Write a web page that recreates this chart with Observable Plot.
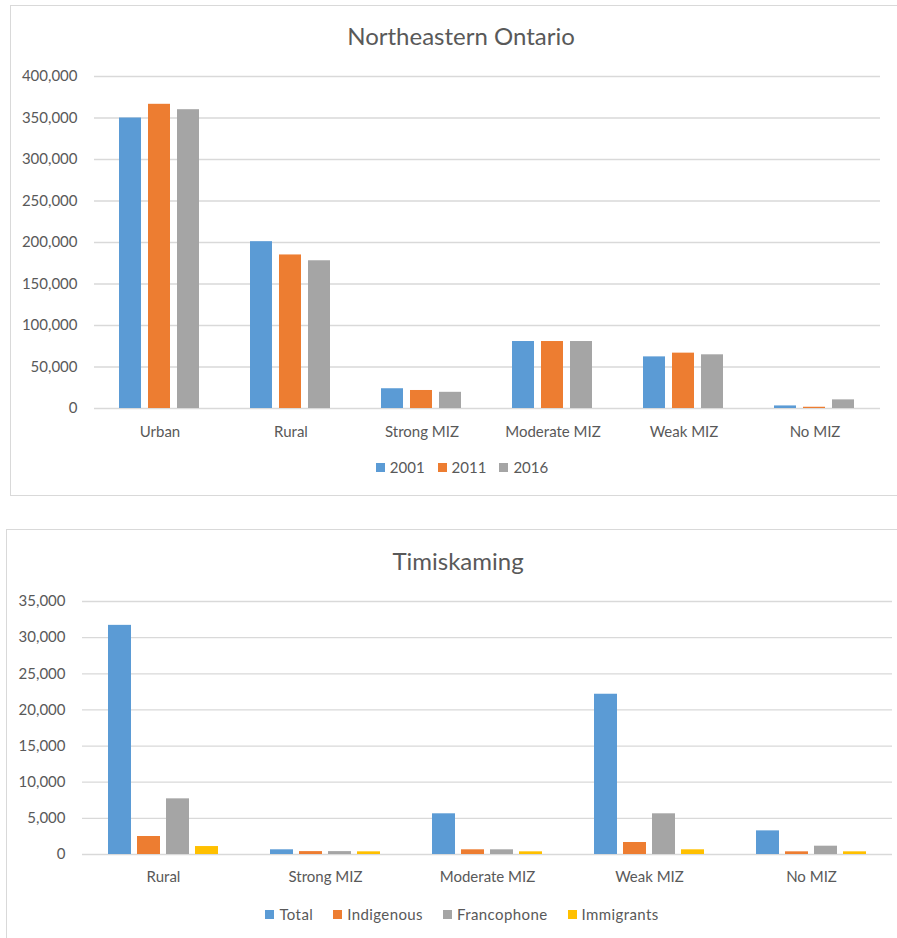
<!DOCTYPE html>
<html>
<head>
<meta charset="utf-8">
<script src="https://cdn.jsdelivr.net/npm/d3@7"></script>
<script src="https://cdn.jsdelivr.net/npm/@observablehq/plot@0.6"></script>
<style>
  body { margin: 0; background: #fff; font-family: Lato, "Open Sans", sans-serif; color: #595959; overflow: hidden; }
  .box { position: absolute; border: 1.5px solid #d9d9d9; box-sizing: border-box; }
  .title { position: absolute; text-align: center; font-size: 24px; line-height: 28px; color: #595959; }
  .legend { position: absolute; display: flex; justify-content: center; font-size: 15px; line-height: 18px; color: #595959; }
  .legend .item { display: flex; align-items: center; }
  .legend .sw { width: 9px; height: 9px; margin-right: 5px; }
  #l1 .item { margin: 0 6.5px; }
  #l2 .item { margin: 0 10px; letter-spacing: 0.4px; }
  .chart { position: absolute; left: 0; }
</style>
</head>
<body>
<div class="box" style="left:10px;top:5px;width:900px;height:491px;"></div>
<div class="box" style="left:6px;top:529px;width:900px;height:500px;"></div>
<div class="title" id="t1" style="left:261px;width:400px;top:22px;"></div>
<div class="title" id="t2" style="left:258px;width:400px;top:547px;"></div>
<div class="chart" id="c1" style="top:0px;"></div>
<div class="chart" id="c2" style="top:525px;"></div>
<div class="legend" id="l1" style="left:262px;width:400px;top:458px;"></div>
<div class="legend" id="l2" style="left:262px;width:400px;top:905px;"></div>
<script>
// ---- Top chart: Northeastern Ontario ----
const titleTop = "Northeastern Ontario";
const categoriesTop = ["Urban", "Rural", "Strong MIZ", "Moderate MIZ", "Weak MIZ", "No MIZ"];
const yearsTop = ["2001", "2011", "2016"];
const pop2001 = [350000, 201000, 23800, 80700, 62200, 3100];
const pop2011 = [366500, 185000, 21700, 80700, 66700, 1500];
const pop2016 = [360000, 178000, 19500, 80700, 64700, 10400];
const yTicksTop = [0, 50000, 100000, 150000, 200000, 250000, 300000, 350000, 400000];
const colorsTop = ["#5b9bd5", "#ed7d31", "#a5a5a5"];

// ---- Bottom chart: Timiskaming ----
const titleBottom = "Timiskaming";
const categoriesBottom = ["Rural", "Strong MIZ", "Moderate MIZ", "Weak MIZ", "No MIZ"];
const groupsBottom = ["Total", "Indigenous", "Francophone", "Immigrants"];
const total = [31700, 650, 5630, 22170, 3270];
const indigenous = [2490, 400, 650, 1660, 370];
const francophone = [7700, 400, 650, 5630, 1150];
const immigrants = [1100, 370, 370, 650, 370];
const yTicksBottom = [0, 5000, 10000, 15000, 20000, 25000, 30000, 35000];
const colorsBottom = ["#5b9bd5", "#ed7d31", "#a5a5a5", "#ffc000"];

const seriesTop = [pop2001, pop2011, pop2016];
const dataTop = [];
categoriesTop.forEach((c, i) => yearsTop.forEach((y, j) => dataTop.push({category: c, year: y, value: seriesTop[j][i]})));
const seriesBottom = [total, indigenous, francophone, immigrants];
const dataBottom = [];
categoriesBottom.forEach((c, i) => groupsBottom.forEach((g, j) => dataBottom.push({category: c, group: g, value: seriesBottom[j][i]})));

const fmt = d3.format(",");
const font = {fontFamily: "Lato, 'Open Sans', sans-serif", fontSize: "15px", color: "#595959", background: "transparent", overflow: "visible"};

const chartTop = Plot.plot({
  width: 897, height: 450,
  marginLeft: 93, marginRight: 17, marginTop: 76, marginBottom: 42,
  style: font,
  fx: {domain: categoriesTop, padding: 0, label: null, tickSize: 0, tickPadding: 18},
  x: {domain: yearsTop, paddingInner: 0.24, paddingOuter: 0.844, axis: null},
  y: {domain: [0, 400000], ticks: yTicksTop, tickFormat: fmt, tickSize: 0, tickPadding: 17, label: null},
  color: {domain: yearsTop, range: colorsTop},
  marks: [
    Plot.ruleY(yTicksTop, {stroke: "#d9d9d9", strokeWidth: 1.3}),
    Plot.barY(dataTop, {fx: "category", x: "year", y: "value", fill: "year"})
  ]
});
document.getElementById("c1").appendChild(chartTop);

const chartBottom = Plot.plot({
  width: 897, height: 375,
  marginLeft: 81, marginRight: 5, marginTop: 76, marginBottom: 46,
  style: font,
  fx: {domain: categoriesBottom, padding: 0, label: null, tickSize: 0, tickPadding: 17},
  x: {domain: groupsBottom, paddingInner: 0.22, paddingOuter: 0.887, axis: null},
  y: {domain: [0, 35000], ticks: yTicksBottom, tickFormat: fmt, tickSize: 0, tickPadding: 17, label: null},
  color: {domain: groupsBottom, range: colorsBottom},
  marks: [
    Plot.ruleY(yTicksBottom, {stroke: "#d9d9d9", strokeWidth: 1.3}),
    Plot.barY(dataBottom, {fx: "category", x: "group", y: "value", fill: "group"})
  ]
});
document.getElementById("c2").appendChild(chartBottom);

document.getElementById("t1").textContent = titleTop;
document.getElementById("t2").textContent = titleBottom;

function legend(el, names, colors) {
  names.forEach((n, i) => {
    const item = document.createElement("div");
    item.className = "item";
    const sw = document.createElement("div");
    sw.className = "sw";
    sw.style.background = colors[i];
    const t = document.createElement("span");
    t.textContent = n;
    item.appendChild(sw); item.appendChild(t);
    el.appendChild(item);
  });
}
legend(document.getElementById("l1"), yearsTop, colorsTop);
legend(document.getElementById("l2"), groupsBottom, colorsBottom);
</script>
</body>
</html>
